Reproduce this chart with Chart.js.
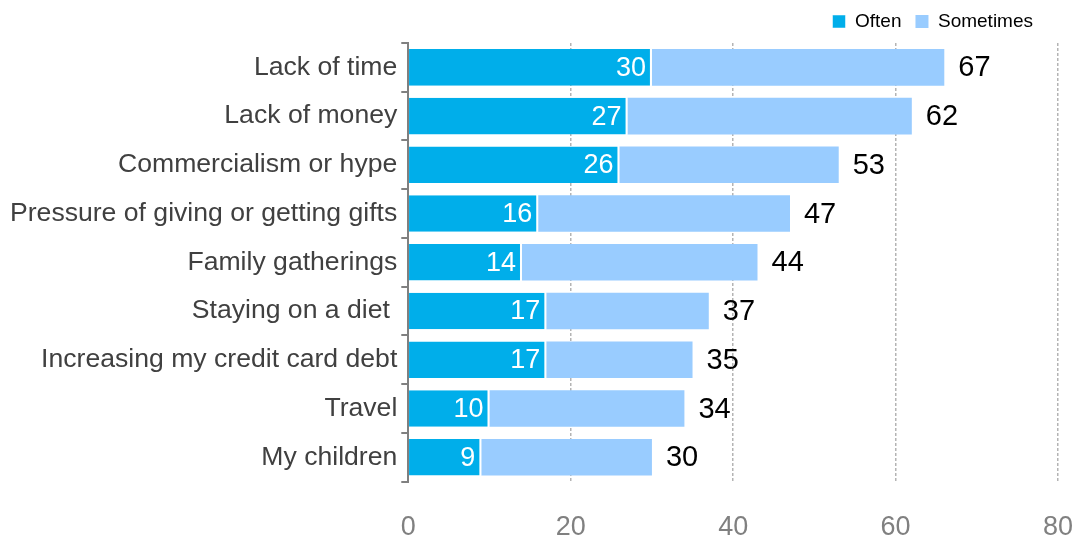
<!DOCTYPE html>
<html>
<head>
<meta charset="utf-8">
<script src="https://cdn.jsdelivr.net/npm/chart.js@4/dist/chart.umd.min.js"></script>
<style>
  html, body { margin: 0; padding: 0; background: #fff; }
  #wrap { width: 1077px; height: 540px; }
</style>
</head>
<body>
<div id="wrap"><canvas id="graficoEstresse"></canvas></div>
<script>
const categorias = ['Lack of time', 'Lack of money', 'Commercialism or hype', 'Pressure of giving or getting gifts',
    'Family gatherings', 'Staying on a diet ', 'Increasing my credit card debt', 'Travel', 'My children'];
const often = [30, 27, 26, 16, 14, 17, 17, 10, 9];
const sometimes = [36, 35, 27, 31, 29, 20, 18, 24, 21];
const totais = [67, 62, 53, 47, 44, 37, 35, 34, 30];
const ticksX = [0, 20, 40, 60, 80];

const fonte = '"Liberation Sans", Arial, sans-serif';

// desenha os rótulos (valor de often dentro da barra, total à direita)
const rotulos = {
    id: 'rotulos',
    beforeDraw(chart) {
        // legenda um pouco para a esquerda e para cima
        const leg = chart.legend;
        if (!leg._movida) {
            leg.left -= 26; leg.right -= 26;
            leg.top -= 2; leg.bottom -= 2;
            leg._movida = true;
        }
    },
    afterLayout(chart) { chart.legend._movida = false; },
    afterDatasetsDraw(chart) {
        const ctx = chart.ctx;
        const m0 = chart.getDatasetMeta(0).data;
        const m1 = chart.getDatasetMeta(1).data;
        ctx.save();
        ctx.textBaseline = 'middle';
        for (let i = 0; i < categorias.length; i++) {
            ctx.font = '27px ' + fonte;
            ctx.fillStyle = '#ffffff';
            ctx.textAlign = 'right';
            ctx.fillText(often[i], m0[i].x - 6, m0[i].y + 1);
            ctx.font = '29px ' + fonte;
            ctx.fillStyle = '#000000';
            ctx.textAlign = 'left';
            ctx.fillText(totais[i], m1[i].x + 14, m1[i].y + 1);
        }
        ctx.restore();
    }
};

const config = {
    type: 'bar',
    data: {
        labels: categorias,
        datasets: [{
            label: 'Often',
            data: often,
            backgroundColor: '#00AEEA',
            borderColor: '#ffffff',
            borderWidth: { top: 0, left: 0, bottom: 0, right: 2 },
            borderSkipped: false,
            barPercentage: 0.75,
            categoryPercentage: 1
        }, {
            label: 'Sometimes',
            data: sometimes,
            backgroundColor: '#99CCFF',
            borderWidth: 0,
            barPercentage: 0.75,
            categoryPercentage: 1
        }]
    },
    options: {
        indexAxis: 'y',
        responsive: true,
        maintainAspectRatio: false,
        animation: false,
        layout: { padding: { left: 6, right: 4, top: 0, bottom: -34 } },
        plugins: {
            tooltip: { enabled: false },
            legend: {
                position: 'top',
                align: 'end',
                labels: {
                    boxWidth: 13,
                    boxHeight: 13,
                    padding: 14,
                    color: '#000',
                    font: { family: fonte, size: 19 }
                }
            }
        },
        scales: {
            x: {
                stacked: true,
                min: 0,
                max: 80,
                afterBuildTicks: (axis) => { axis.ticks = ticksX.map(v => ({ value: v })); },
                afterFit: (s) => { s.paddingRight = 19; },
                border: { display: false, dash: [3, 2] },
                grid: {
                    color: (c) => c.tick && c.tick.value === 0 ? 'rgba(0,0,0,0)' : '#b4b4b4',
                    lineWidth: 1.5,
                    drawTicks: false
                },
                ticks: {
                    color: '#808080',
                    padding: 30,
                    font: { family: fonte, size: 27 }
                }
            },
            y: {
                stacked: true,
                border: { display: true, color: '#808080', width: 2 },
                grid: {
                    drawOnChartArea: false,
                    drawTicks: true,
                    tickLength: 7,
                    color: '#808080',
                    lineWidth: 2
                },
                ticks: {
                    color: '#404040',
                    padding: 4,
                    font: { family: fonte, size: 26.6 }
                }
            }
        }
    },
    plugins: [rotulos]
};

const ctx = document.getElementById('graficoEstresse').getContext('2d');
let meuGrafico = new Chart(ctx, config);
</script>
</body>
</html>
